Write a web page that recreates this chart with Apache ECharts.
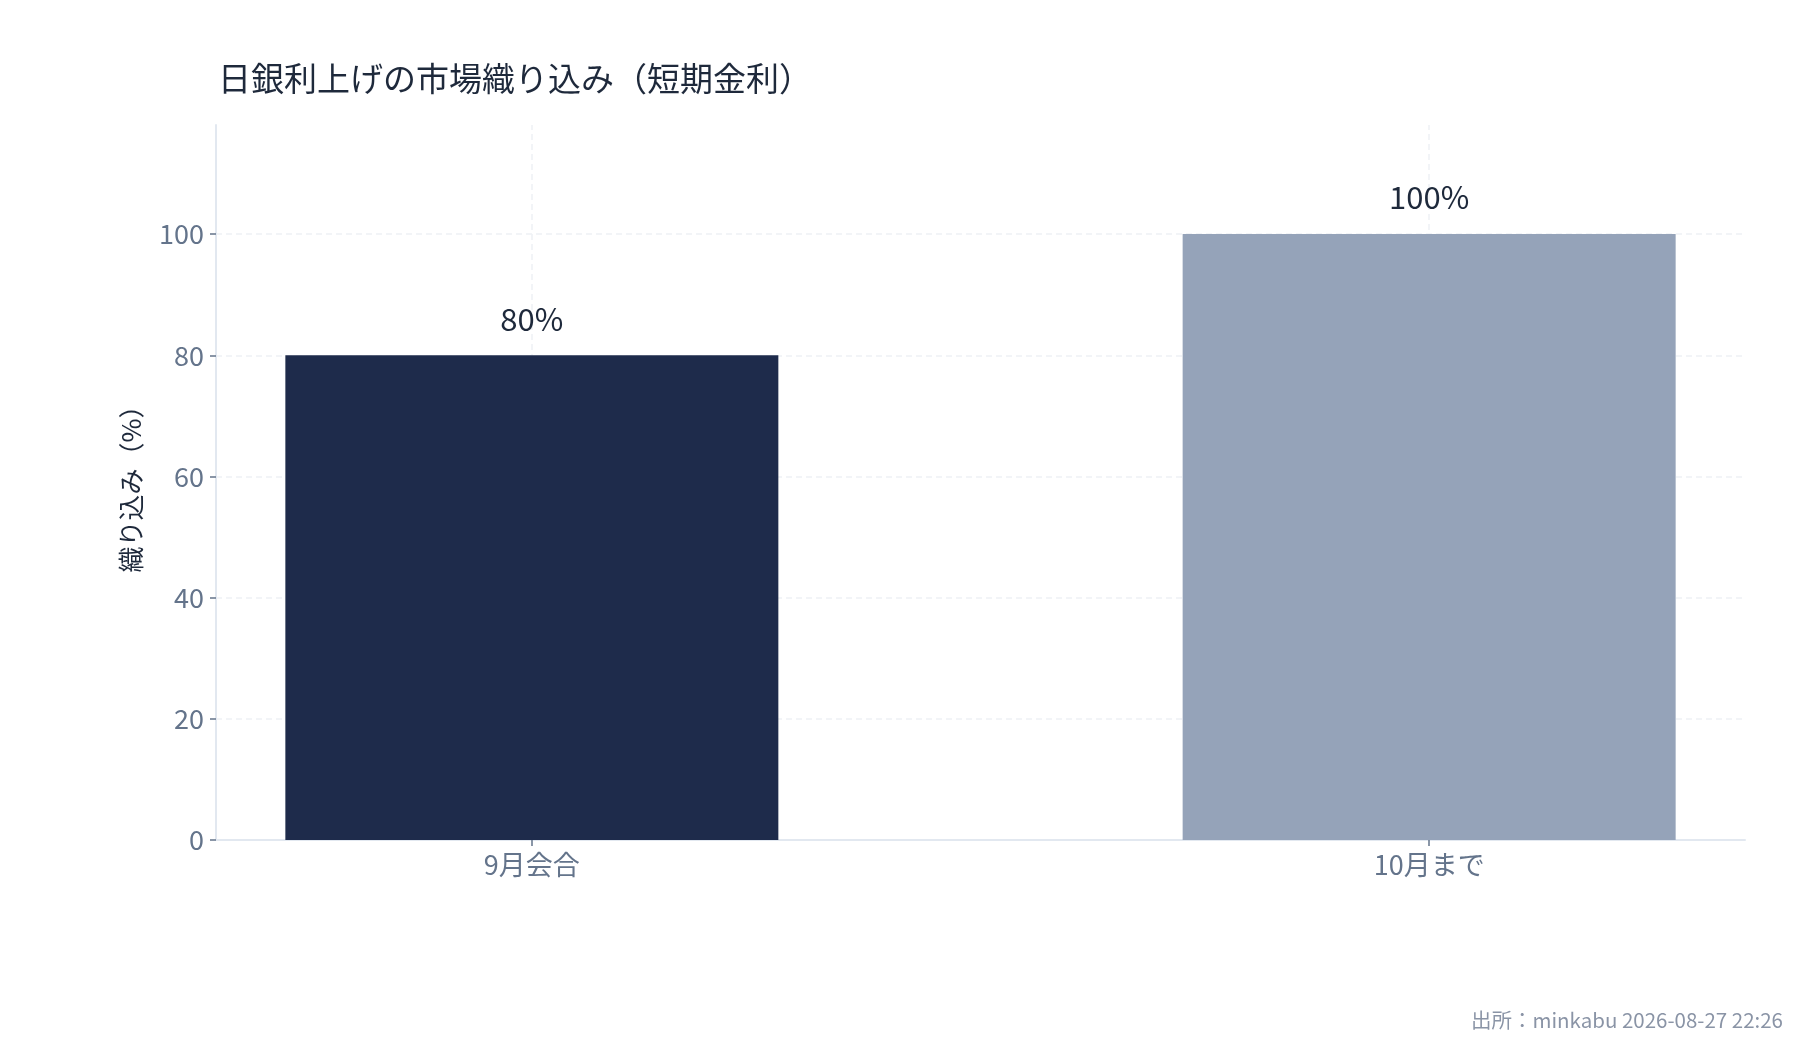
<!DOCTYPE html>
<html>
<head>
<meta charset="utf-8">
<script src="https://cdn.jsdelivr.net/npm/echarts@6/dist/echarts.min.js"></script>
<style>
  html, body { margin: 0; padding: 0; background: #ffffff; }
  #main { width: 1800px; height: 1050px; }
</style>
</head>
<body>
<div id="main"></div>
<script>
// categories and values
var categories = ['9月会合', '10月まで'];
var pricedIn = [80, 100];
var barColors = ['#1e2b4b', '#95a3b9'];
var yTicks = [0, 20, 40, 60, 80, 100];

var font = '"Noto Sans CJK JP", "Noto Sans", sans-serif';

var myChart = echarts.init(document.getElementById('main'));

var option = {
    backgroundColor: '#ffffff',
    textStyle: { fontFamily: font },
    title: {
        text: '日銀利上げの市場織り込み（短期金利）',
        left: 213,
        top: 57,
        textStyle: { fontFamily: font, fontSize: 33, fontWeight: 'normal', color: '#1e293b' }
    },
    grid: { left: 216, right: 55, top: 125, bottom: 210 },
    xAxis: {
        type: 'value',
        min: -0.352,
        max: categories.length - 1 + 0.352,
        axisLine: { show: true, onZero: false, lineStyle: { color: '#e2e8f0', width: 2 } },
        axisTick: {
            show: true,
            customValues: categories.map(function (c, i) { return i; }),
            length: 6,
            lineStyle: { color: '#64748b', width: 1.5 }
        },
        axisLabel: {
            customValues: categories.map(function (c, i) { return i; }),
            formatter: function (v) { return categories[Math.round(v)]; },
            fontFamily: font,
            fontSize: 27,
            color: '#64748b',
            margin: 11
        },
        splitLine: { show: false }
    },
    yAxis: {
        type: 'value',
        min: 0,
        max: 118,
        interval: 20,
        name: '織り込み（%）',
        nameLocation: 'middle',
        nameGap: 72,
        nameTextStyle: { fontFamily: font, fontSize: 26, color: '#1e293b' },
        axisLine: { show: true, onZero: false, lineStyle: { color: '#e2e8f0', width: 2 } },
        axisTick: {
            show: true,
            customValues: yTicks,
            length: 6,
            lineStyle: { color: '#64748b', width: 1.5 }
        },
        axisLabel: {
            customValues: yTicks,
            fontFamily: font,
            fontSize: 27,
            color: '#64748b',
            margin: 12
        },
        splitLine: {
            show: true,
            lineStyle: { color: '#eef1f5', width: 1.5, type: [6, 4] }
        }
    },
    series: [{
        type: 'bar',
        barWidth: 493,
        data: pricedIn.map(function (v, i) {
            return { value: [i, v], itemStyle: { color: barColors[i] } };
        }),
        label: {
            show: true,
            position: 'top',
            distance: 21,
            formatter: function (p) { return p.value[1] + '%'; },
            fontFamily: font,
            fontSize: 31,
            color: '#1e293b'
        },
        markLine: {
            z: 1,
            silent: true,
            symbol: 'none',
            label: { show: false },
            lineStyle: { color: '#eef1f5', width: 1.5, type: [6, 4] },
            data: categories.map(function (c, i) { return { xAxis: i }; })
        }
    }],
    graphic: [{
        type: 'text',
        right: 17,
        top: 1010,
        style: {
            text: '出所：minkabu 2026-08-27 22:26',
            fontFamily: font,
            fontSize: 20.5,
            fill: '#8a94a6'
        }
    }]
};

myChart.setOption(option);
</script>
</body>
</html>
